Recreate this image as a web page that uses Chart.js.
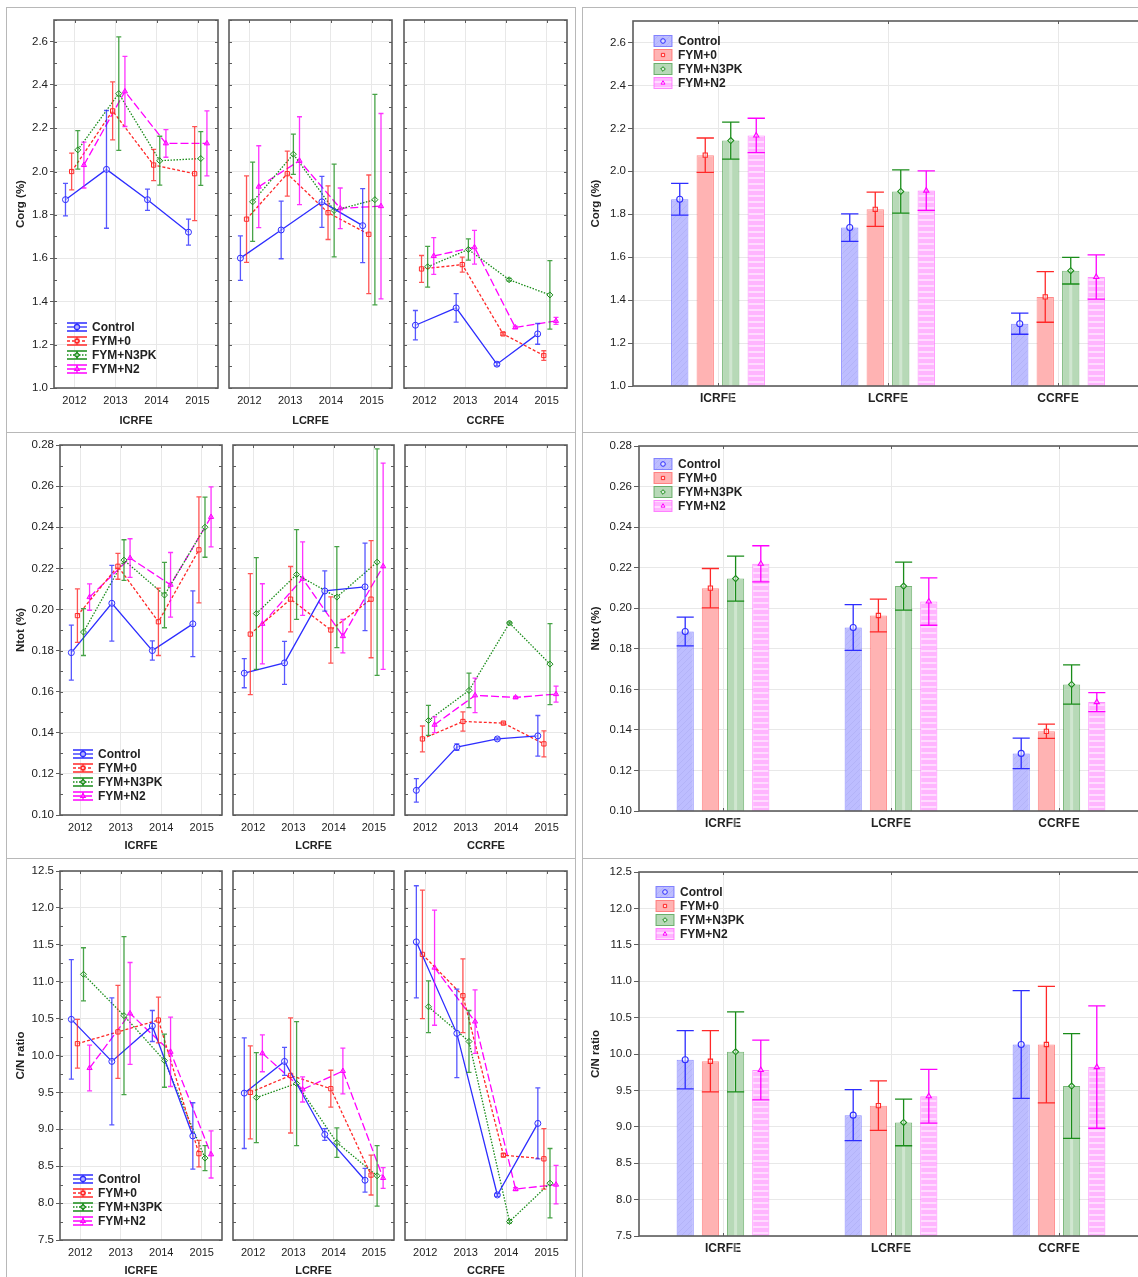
<!DOCTYPE html>
<html>
<head>
<meta charset="utf-8">
<title>Corg, Ntot and C/N ratio by treatment</title>
<script src="https://cdn.jsdelivr.net/npm/chart.js@4.4.1/dist/chart.umd.min.js"></script>
<style>
  html, body { margin: 0; padding: 0; background: #fff; }
  #page { position: relative; width: 1138px; height: 1277px; overflow: hidden; background: #fff; }
  #page canvas { position: absolute; }
  .rule { position: absolute; background: #b8b8b8; }
</style>
</head>
<body>
<div id="page"></div>
<script>
const years = [2012, 2013, 2014, 2015];
const sites = ['ICRFE', 'LCRFE', 'CCRFE'];
const treatments = ['Control', 'FYM+0', 'FYM+N3PK', 'FYM+N2'];

const corgTicks = [1.0, 1.2, 1.4, 1.6, 1.8, 2.0, 2.2, 2.4, 2.6];
const ntotTicks = [0.10, 0.12, 0.14, 0.16, 0.18, 0.20, 0.22, 0.24, 0.26, 0.28];
const cnTicks = [7.5, 8.0, 8.5, 9.0, 9.5, 10.0, 10.5, 11.0, 11.5, 12.0, 12.5];

// yearly means (rows: Control, FYM+0, FYM+N3PK, FYM+N2) and error half-widths
const corgICRFE = [[1.87, 2.01, 1.87, 1.72], [2.00, 2.28, 2.03, 1.99], [2.10, 2.36, 2.05, 2.06], [2.03, 2.37, 2.13, 2.13]];
const corgICRFEErr = [[0.075, 0.272, 0.049, 0.060], [0.085, 0.134, 0.072, 0.217], [0.089, 0.262, 0.113, 0.124], [0.106, 0.162, 0.064, 0.150]];
const corgLCRFE = [[1.60, 1.73, 1.86, 1.75], [1.78, 1.99, 1.81, 1.71], [1.86, 2.08, 1.82, 1.87], [1.93, 2.05, 1.83, 1.84]];
const corgLCRFEErr = [[0.103, 0.133, 0.118, 0.171], [0.200, 0.104, 0.124, 0.274], [0.183, 0.093, 0.214, 0.486], [0.189, 0.203, 0.094, 0.428]];
const corgCCRFE = [[1.29, 1.37, 1.11, 1.25], [1.55, 1.57, 1.25, 1.15], [1.56, 1.64, 1.50, 1.43], [1.61, 1.65, 1.28, 1.31]];
const corgCCRFEErr = [[0.068, 0.066, 0.008, 0.048], [0.062, 0.035, 0.006, 0.022], [0.094, 0.049, 0.006, 0.158], [0.085, 0.078, 0.006, 0.016]];

const ntotICRFE = [[0.179, 0.203, 0.180, 0.193], [0.197, 0.221, 0.194, 0.229], [0.189, 0.224, 0.207, 0.240], [0.206, 0.225, 0.212, 0.245]];
const ntotICRFEErr = [[0.0134, 0.0184, 0.0047, 0.0160], [0.0130, 0.0063, 0.0164, 0.0258], [0.0114, 0.0099, 0.0159, 0.0146], [0.0064, 0.0094, 0.0157, 0.0146]];
const ntotLCRFE = [[0.169, 0.174, 0.209, 0.211], [0.188, 0.205, 0.190, 0.205], [0.198, 0.217, 0.206, 0.223], [0.193, 0.215, 0.187, 0.221]];
const ntotLCRFEErr = [[0.0071, 0.0105, 0.0098, 0.0213], [0.0294, 0.0159, 0.0161, 0.0285], [0.0272, 0.0218, 0.0246, 0.0551], [0.0195, 0.0179, 0.0081, 0.0502]];
const ntotCCRFE = [[0.112, 0.133, 0.137, 0.1385], [0.137, 0.1455, 0.1447, 0.1346], [0.146, 0.1606, 0.1934, 0.1734], [0.1439, 0.1582, 0.1572, 0.1588]];
const ntotCCRFEErr = [[0.0057, 0.0016, 0.0005, 0.0099], [0.0063, 0.0047, 0.0005, 0.0063], [0.0073, 0.0084, 0.0005, 0.0197], [0.0038, 0.0084, 0.0005, 0.0039]];

const cnICRFE = [[10.49, 9.92, 10.40, 8.91], [10.16, 10.32, 10.48, 8.67], [11.10, 10.54, 9.93, 8.61], [9.83, 10.57, 10.05, 8.66]];
const cnICRFEErr = [[0.81, 0.86, 0.21, 0.45], [0.33, 0.63, 0.31, 0.18], [0.36, 1.07, 0.36, 0.17], [0.31, 0.69, 0.47, 0.32]];
const cnLCRFE = [[9.49, 9.92, 8.93, 8.31], [9.50, 9.73, 9.55, 8.38], [9.43, 9.62, 8.82, 8.37], [10.03, 9.54, 9.79, 8.34]];
const cnLCRFEErr = [[0.75, 0.19, 0.08, 0.16], [0.63, 0.78, 0.25, 0.27], [0.61, 0.84, 0.20, 0.41], [0.25, 0.17, 0.31, 0.14]];
const cnCCRFE = [[11.54, 10.30, 8.11, 9.08], [11.37, 10.81, 8.65, 8.60], [10.66, 10.19, 7.75, 8.27], [11.19, 10.46, 8.19, 8.25]];
const cnCCRFEErr = [[0.76, 0.60, 0.02, 0.48], [0.87, 0.50, 0.02, 0.41], [0.35, 0.42, 0.02, 0.47], [0.78, 0.43, 0.02, 0.26]];

// means over all years (rows: treatments, columns: sites)
const corgMean = [[1.870, 1.738, 1.290], [2.075, 1.823, 1.415], [2.143, 1.906, 1.537], [2.167, 1.910, 1.508]];
const corgMeanErr = [[0.074, 0.064, 0.049], [0.080, 0.080, 0.118], [0.086, 0.101, 0.062], [0.080, 0.092, 0.103]];
const ntotMean = [[0.1885, 0.1905, 0.1284], [0.2099, 0.1964, 0.1393], [0.2146, 0.2109, 0.1624], [0.2219, 0.2033, 0.1537]];
const ntotMeanErr = [[0.0071, 0.0113, 0.0075], [0.0097, 0.0081, 0.0035], [0.0111, 0.0118, 0.0097], [0.0089, 0.0117, 0.0047]];
const cnMean = [[9.92, 9.16, 10.13], [9.90, 9.29, 10.13], [10.03, 9.06, 9.56], [9.78, 9.42, 9.82]];
const cnMeanErr = [[0.40, 0.35, 0.74], [0.42, 0.34, 0.80], [0.55, 0.32, 0.72], [0.41, 0.37, 0.84]];

// look
const FONT = "'Liberation Sans', Arial, sans-serif";
const ink = '#222';
const gridColor = '#e8e8e8';
const frameColor = '#5c5c5c';
const lineColors = ['rgb(45,45,255)', 'rgb(255,40,40)', 'rgb(25,140,25)', 'rgb(255,0,255)'];
const whiskerColors = ['rgba(45,45,255,0.8)', 'rgba(255,40,40,0.8)', 'rgba(25,140,25,0.8)', 'rgba(255,0,255,0.8)'];
const dashes = [[], [3, 2], [1.5, 1.5], [8, 3]];
const markers = ['circle', 'rect', 'rectRot', 'triangle'];
const markerFill = ['rgba(255,255,255,0.6)', 'rgba(255,255,255,0.6)', 'rgba(255,255,255,0.6)', 'rgba(255,130,255,0.9)'];
const jitter = [-0.22, -0.07, 0.08, 0.23];
const barEdge = ['rgba(90,90,255,0.7)', 'rgba(255,90,90,0.7)', 'rgba(60,150,60,0.7)', 'rgba(255,90,255,0.7)'];

Chart.defaults.font.family = FONT;
Chart.defaults.color = ink;

function tile(w, h, draw) {
  const c = document.createElement('canvas');
  c.width = w; c.height = h;
  const g = c.getContext('2d');
  draw(g);
  return g.createPattern(c, 'repeat');
}
const barFill = [
  tile(6, 6, g => { g.fillStyle = '#bdbdff'; g.fillRect(0, 0, 6, 6); g.strokeStyle = '#b3b3f8'; g.lineWidth = 1; g.beginPath(); g.moveTo(0, 6); g.lineTo(6, 0); g.stroke(); }),
  '#ffb3b3',
  '#b7d9b7',
  tile(6, 6, g => { g.fillStyle = '#ffb5ff'; g.fillRect(0, 0, 6, 6); g.fillStyle = '#ffdcff'; g.fillRect(0, 0, 6, 2); })
];

// error bars (and the mean marker on bars)
const whiskers = {
  id: 'whiskers',
  afterDatasetsDraw(chart) {
    const ctx = chart.ctx, ys = chart.scales.y, isBar = chart.config.type === 'bar';
    chart.data.datasets.forEach((ds, di) => {
      chart.getDatasetMeta(di).data.forEach((el, i) => {
        const raw = ds.data[i];
        const v = typeof raw === 'object' ? raw.y : raw;
        const hi = ys.getPixelForValue(v + ds.err[i]);
        const lo = ys.getPixelForValue(v - ds.err[i]);
        const half = isBar ? el.width / 2 : 2.5;
        ctx.save();
        if (isBar && ds.band) {
          ctx.fillStyle = 'rgba(255,255,255,0.35)';
          ctx.fillRect(el.x - 1.5, el.y + 1, 3, el.base - el.y - 1);
        }
        ctx.strokeStyle = ds.whisker;
        ctx.lineWidth = 1.3;
        ctx.beginPath();
        ctx.moveTo(el.x, hi); ctx.lineTo(el.x, lo);
        ctx.moveTo(el.x - half, hi); ctx.lineTo(el.x + half, hi);
        ctx.moveTo(el.x - half, lo); ctx.lineTo(el.x + half, lo);
        ctx.stroke();
        if (isBar) {
          ctx.fillStyle = 'rgba(255,255,255,0.5)';
          ctx.lineWidth = 1.1;
          Chart.helpers.drawPoint(ctx, { pointStyle: ds.marker, radius: 3, borderWidth: 1.1, rotation: 0 }, el.x, el.y);
        }
        ctx.restore();
      });
    });
  }
};

// plot box and small inward ticks
const frame = {
  id: 'frame',
  afterDraw(chart, args, o) {
    const { ctx, chartArea: a } = chart;
    const ys = chart.scales.y, xs = chart.scales.x;
    ctx.save();
    ctx.strokeStyle = frameColor;
    ctx.lineWidth = 1;
    ctx.beginPath();
    if (o.minor) {
      for (let v = ys.min; v <= ys.max + 1e-9; v += o.minor) {
        const p = Math.round(ys.getPixelForValue(v)) + 0.5;
        ctx.moveTo(a.left, p); ctx.lineTo(a.left + 3, p);
        ctx.moveTo(a.right, p); ctx.lineTo(a.right - 3, p);
      }
    }
    xs.ticks.forEach((t, i) => {
      const p = Math.round(xs.getPixelForTick(i)) + 0.5;
      ctx.moveTo(p, a.top); ctx.lineTo(p, a.top + 3);
      if (o.bottomTicks) { ctx.moveTo(p, a.bottom); ctx.lineTo(p, a.bottom - 3); }
    });
    ctx.stroke();
    ctx.lineWidth = 1.6;
    ctx.strokeRect(a.left, a.top, a.right - a.left, a.bottom - a.top);
    ctx.restore();
  }
};

// legend drawn inside the plot
const key = {
  id: 'key',
  afterDraw(chart, args, o) {
    if (!o.show) return;
    const { ctx, chartArea: a } = chart;
    chart.data.datasets.forEach((ds, k) => {
      ctx.save();
      if (o.kind === 'line') {
        const y = a.bottom + o.y + k * 14, x0 = a.left + o.x0, x1 = a.left + o.x1, xm = (x0 + x1) / 2;
        ctx.strokeStyle = ds.borderColor;
        ctx.lineWidth = 1.3;
        ctx.beginPath();
        ctx.moveTo(x0, y - 4); ctx.lineTo(x1, y - 4);
        ctx.moveTo(x0, y + 4); ctx.lineTo(x1, y + 4);
        ctx.moveTo(xm, y - 4); ctx.lineTo(xm, y + 4);
        ctx.stroke();
        ctx.setLineDash(ds.borderDash);
        ctx.beginPath(); ctx.moveTo(x0, y); ctx.lineTo(x1, y); ctx.stroke();
        ctx.setLineDash([]);
        ctx.fillStyle = ds.pointBackgroundColor;
        Chart.helpers.drawPoint(ctx, { pointStyle: ds.pointStyle, radius: 2.5, borderWidth: 1, rotation: 0 }, xm, y);
        ctx.fillStyle = ink;
        ctx.font = 'bold 12px ' + FONT;
        ctx.textBaseline = 'middle';
        ctx.fillText(ds.label, a.left + o.tx, y + 0.5);
      } else {
        const y = a.top + o.y + k * 14, bx = a.left + o.x0;
        ctx.fillStyle = ds.backgroundColor;
        ctx.fillRect(bx, y - 5.5, 18, 11);
        ctx.strokeStyle = ds.borderColor;
        ctx.lineWidth = 1;
        ctx.strokeRect(bx, y - 5.5, 18, 11);
        ctx.strokeStyle = ds.whisker;
        ctx.fillStyle = 'rgba(255,255,255,0.5)';
        Chart.helpers.drawPoint(ctx, { pointStyle: ds.marker, radius: 2.3, borderWidth: 1, rotation: 0 }, bx + 9, y);
        ctx.fillStyle = ink;
        ctx.font = 'bold 12px ' + FONT;
        ctx.textBaseline = 'middle';
        ctx.fillText(ds.label, a.left + o.tx, y + 0.5);
      }
      ctx.restore();
    });
  }
};

function addCanvas(box, m) {
  const c = document.createElement('canvas');
  c.width = box[2] - box[0] + m[0] + m[2];
  c.height = box[3] - box[1] + m[1] + m[3];
  c.style.left = (box[0] - m[0]) + 'px';
  c.style.top = (box[1] - m[1]) + 'px';
  document.getElementById('page').appendChild(c);
  return c;
}

function rule(x, y, w, h) {
  const d = document.createElement('div');
  d.className = 'rule';
  Object.assign(d.style, { left: x + 'px', top: y + 'px', width: w + 'px', height: h + 'px' });
  document.getElementById('page').appendChild(d);
}

function yearPanel(box, m, spec) {
  const datasets = treatments.map((name, s) => ({
    label: name,
    data: years.map((yr, i) => ({ x: yr + jitter[s], y: spec.means[s][i] })),
    err: spec.errs[s],
    whisker: whiskerColors[s],
    borderColor: lineColors[s],
    borderWidth: 1.3,
    borderDash: dashes[s],
    pointStyle: markers[s],
    pointRadius: 3,
    pointBorderWidth: 1,
    pointBorderColor: lineColors[s],
    pointBackgroundColor: markerFill[s],
    tension: 0,
    fill: false
  }));
  new Chart(addCanvas(box, m), {
    type: 'line',
    data: { datasets },
    plugins: [whiskers, frame, key],
    options: {
      responsive: false,
      animation: false,
      devicePixelRatio: 1,
      layout: { padding: { top: m[1], right: m[2], left: 0, bottom: 0 } },
      plugins: {
        legend: { display: false },
        tooltip: { enabled: false },
        frame: { minor: spec.minor },
        key: { show: spec.first, kind: 'line', x0: 13, x1: 33, tx: 38, y: -61 }
      },
      scales: {
        x: {
          type: 'linear', min: 2011.5, max: 2015.5,
          afterBuildTicks: s => { s.ticks = years.map(v => ({ value: v })); },
          afterFit: s => { s.height = m[3]; },
          ticks: { callback: v => String(v), font: { size: 11 }, padding: 6, maxRotation: 0 },
          grid: { color: gridColor, drawTicks: false },
          border: { display: false },
          title: { display: true, text: spec.site, font: { size: 11, weight: 'bold' }, padding: 0 }
        },
        y: {
          min: spec.min, max: spec.max,
          afterBuildTicks: s => { s.ticks = spec.ticks.map(v => ({ value: v })); },
          afterFit: s => { s.width = m[0]; },
          ticks: { display: spec.first, callback: v => v.toFixed(spec.digits), font: { size: 11.5 }, padding: 2 },
          grid: { color: gridColor, drawTicks: spec.first, tickLength: 4, tickColor: frameColor },
          border: { display: false },
          title: { display: spec.first, text: spec.title, font: { size: 11.5, weight: 'bold' }, padding: 0 }
        }
      }
    }
  });
}

function meanPanel(box, m, spec) {
  const datasets = treatments.map((name, s) => ({
    label: name,
    data: spec.means[s],
    err: spec.errs[s],
    whisker: lineColors[s],
    marker: markers[s],
    band: s === 2,
    backgroundColor: barFill[s],
    borderColor: barEdge[s],
    borderWidth: 1,
    barPercentage: 0.68,
    categoryPercentage: 0.6
  }));
  new Chart(addCanvas(box, m), {
    type: 'bar',
    data: { labels: sites, datasets },
    plugins: [whiskers, frame, key],
    options: {
      responsive: false,
      animation: false,
      devicePixelRatio: 1,
      layout: { padding: { top: m[1], right: m[2], left: 0, bottom: 0 } },
      plugins: {
        legend: { display: false },
        tooltip: { enabled: false },
        frame: { bottomTicks: true },
        key: { show: true, kind: 'bar', x0: spec.key[0], tx: spec.key[0] + 24, y: spec.key[1] }
      },
      scales: {
        x: {
          afterFit: s => { s.height = m[3]; },
          ticks: { font: { size: 12, weight: 'bold' }, padding: 5 },
          grid: { color: gridColor, drawTicks: false, offset: false },
          border: { display: false }
        },
        y: {
          min: spec.min, max: spec.max,
          afterBuildTicks: s => { s.ticks = spec.ticks.map(v => ({ value: v })); },
          afterFit: s => { s.width = m[0]; },
          ticks: { callback: v => v.toFixed(spec.digits), font: { size: 11.5 }, padding: 2 },
          grid: { color: gridColor, tickLength: 5, tickColor: frameColor },
          border: { display: false },
          title: { display: true, text: spec.title, font: { size: 11.5, weight: 'bold' }, padding: 0 }
        }
      }
    }
  });
}

// separators between the six figures
[7, 432, 858].forEach(y => { rule(6, y, 570, 1); rule(582, y, 560, 1); });
rule(6, 7, 1, 1270); rule(575, 7, 1, 1270); rule(582, 7, 1, 1270);

const rows = [
  { title: 'Corg (%)', ticks: corgTicks, min: 1.0, max: 2.7, digits: 1, minor: 0.1,
    sets: [[corgICRFE, corgICRFEErr], [corgLCRFE, corgLCRFEErr], [corgCCRFE, corgCCRFEErr]],
    boxes: [[54, 20, 219, 388], [227, 20, 393, 388], [402, 20, 568, 388]], mb: 40,
    means: corgMean, meanErrs: corgMeanErr, barBox: [633, 21, 1143, 386], barKey: [21, 20] },
  { title: 'Ntot (%)', ticks: ntotTicks, min: 0.10, max: 0.28, digits: 2, minor: 0.01,
    sets: [[ntotICRFE, ntotICRFEErr], [ntotLCRFE, ntotLCRFEErr], [ntotCCRFE, ntotCCRFEErr]],
    boxes: [[60, 445, 223, 815], [231, 445, 395, 815], [403, 445, 568, 815]], mb: 38,
    means: ntotMean, meanErrs: ntotMeanErr, barBox: [639, 446, 1143, 811], barKey: [15, 18] },
  { title: 'C/N ratio', ticks: cnTicks, min: 7.5, max: 12.5, digits: 1, minor: 0.25,
    sets: [[cnICRFE, cnICRFEErr], [cnLCRFE, cnLCRFEErr], [cnCCRFE, cnCCRFEErr]],
    boxes: [[60, 871, 223, 1240], [231, 871, 395, 1240], [403, 871, 568, 1240]], mb: 38,
    means: cnMean, meanErrs: cnMeanErr, barBox: [639, 872, 1143, 1236], barKey: [17, 20] }
];

rows.forEach(r => {
  r.boxes.forEach((box, p) => {
    const first = p === 0;
    const m = [first ? box[0] - 14 : 3, 12, 4, r.mb];
    yearPanel(box, m, {
      means: r.sets[p][0], errs: r.sets[p][1], ticks: r.ticks, min: r.min, max: r.max,
      digits: r.digits, minor: r.minor, title: r.title, site: sites[p], first
    });
  });
  meanPanel(r.barBox, [r.barBox[0] - 589, 12, 2, 26], {
    means: r.means, errs: r.meanErrs, ticks: r.ticks, min: r.min, max: r.max,
    digits: r.digits, title: r.title, key: r.barKey
  });
});
</script>
</body>
</html>
